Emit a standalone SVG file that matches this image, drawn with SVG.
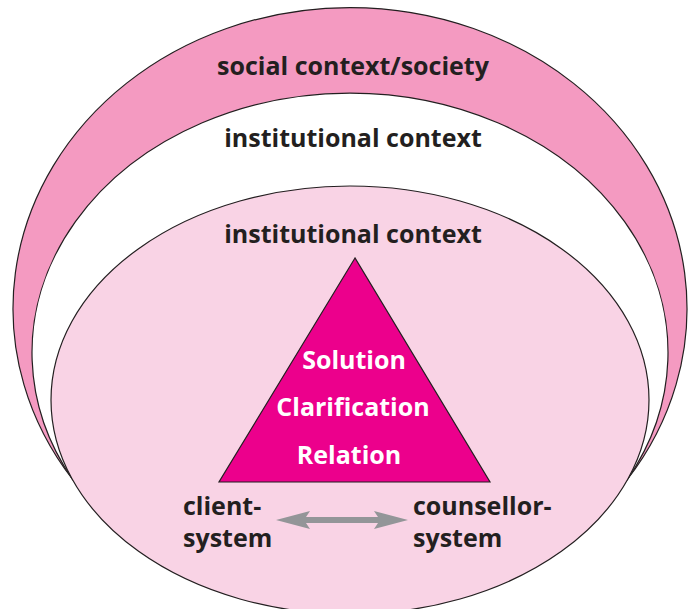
<svg xmlns="http://www.w3.org/2000/svg" width="695" height="609" viewBox="0 0 695 609">
<style>
.ln{stroke:#231F20;stroke-width:1.2}
.lbl{font-family:"Open Sans","Noto Sans","Liberation Sans",sans-serif;font-weight:700;font-size:25px;fill:#231F20;text-anchor:middle}
.sys{font-family:"Open Sans","Noto Sans","Liberation Sans",sans-serif;font-weight:700;font-size:25px;fill:#231F20}
.tri{font-family:"Open Sans","Noto Sans","Liberation Sans",sans-serif;font-weight:700;font-size:25px;fill:#FFFFFF;text-anchor:middle}
</style>
<rect width="695" height="609" fill="#FFFFFF"/>
<g id="society">
<path class="ln" d="M73,480 A337,301 0 1 1 627,480 Z" fill="#F49AC1"/>
<text class="lbl" x="353" y="75">social context/society</text>
</g>
<g id="institution-outer">
<path class="ln" d="M73,480 A318,259.5 0 1 1 627,480 Z" fill="#FFFFFF"/>
<text class="lbl" x="353" y="147">institutional context</text>
</g>
<g id="institution-inner">
<ellipse class="ln" cx="350" cy="400" rx="299" ry="214" fill="#F9D3E5"/>
<text class="lbl" x="353" y="243">institutional context</text>
</g>
<g id="triangle">
<polygon class="ln" points="355,258 219,482 490,482" fill="#EC008C"/>
<text class="tri" x="354" y="369">Solution</text>
<text class="tri" x="353" y="416">Clarification</text>
<text class="tri" x="349" y="464">Relation</text>
</g>
<g id="client">
<text class="sys" x="183" y="515">client-</text>
<text class="sys" x="183" y="547">system</text>
</g>
<g id="counsellor">
<text class="sys" x="413" y="515">counsellor-</text>
<text class="sys" x="413" y="547">system</text>
</g>
<g id="connectors">
<polygon points="276,520 310,511 306,517 378,517 374,511 408,520 374,529 378,523 306,523 310,529" fill="#939598"/>
</g>
</svg>
